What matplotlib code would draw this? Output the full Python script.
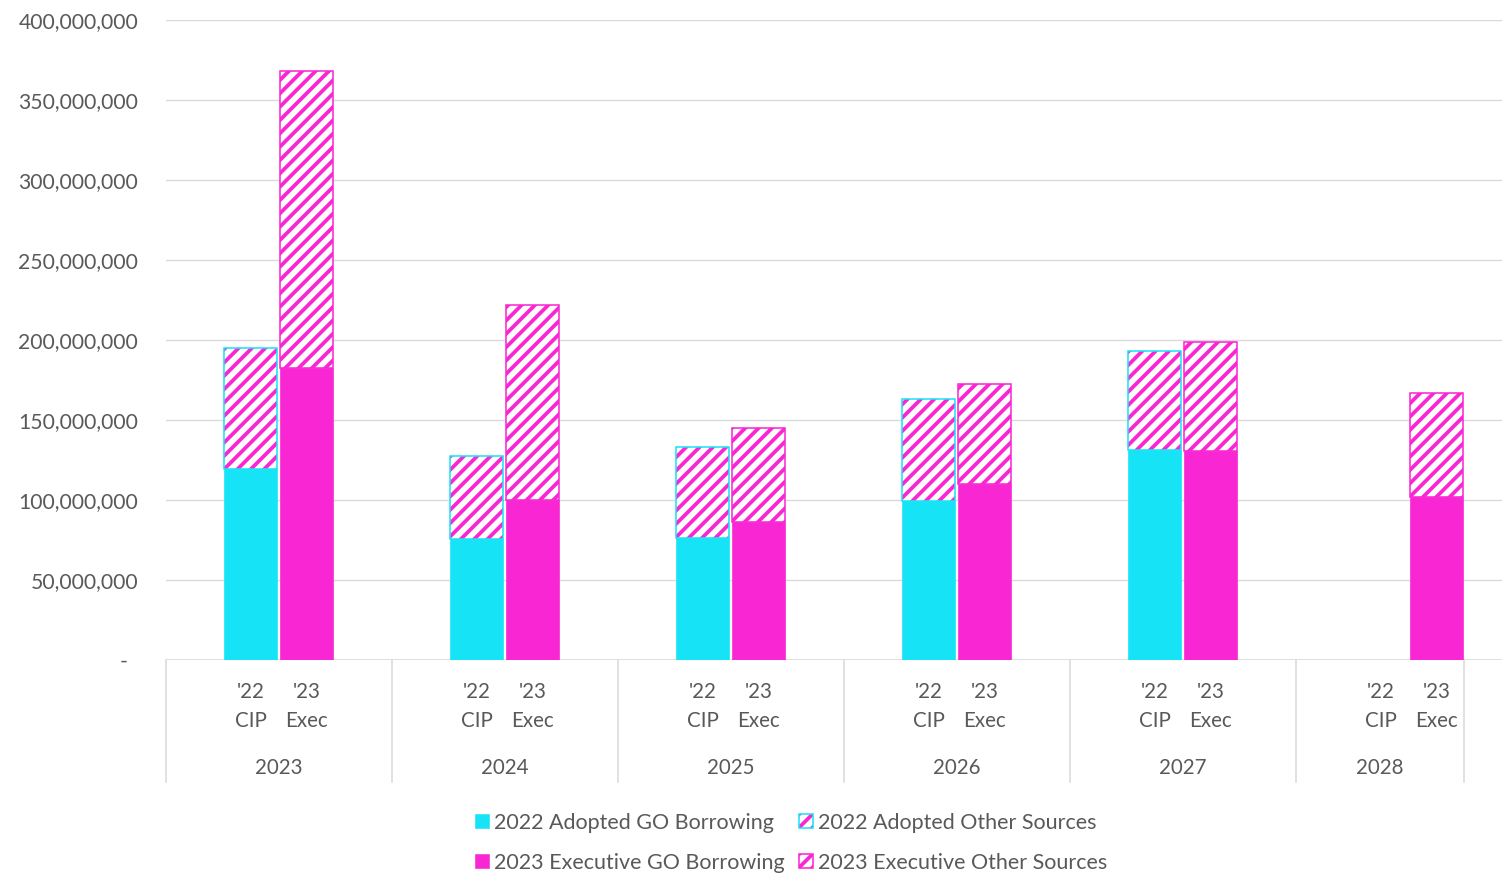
import matplotlib
matplotlib.use("Agg")
import matplotlib.pyplot as plt
import matplotlib.transforms as mtransforms
from matplotlib.patches import Rectangle
from matplotlib.ticker import FuncFormatter, MultipleLocator
import numpy as np

# ---- data -------------------------------------------------------------
years = ["2023", "2024", "2025", "2026", "2027", "2028"]
plan_top = ["'22", "'23"]
plan_bottom = ["CIP", "Exec"]

cip22_go = [119.2e6, 75.4e6, 76.0e6, 99.4e6, 131.0e6, np.nan]
cip22_other = [75.6e6, 52.3e6, 57.0e6, 63.6e6, 62.3e6, np.nan]
exec23_go = [182.7e6, 100.0e6, 86.5e6, 110.0e6, 130.8e6, 101.7e6]
exec23_other = [185.3e6, 122.0e6, 58.5e6, 62.7e6, 67.7e6, 65.3e6]

legend_labels = ["2022 Adopted GO Borrowing", "2022 Adopted Other Sources",
                 "2023 Executive GO Borrowing", "2023 Executive Other Sources"]

# ---- style ------------------------------------------------------------
CYAN = "#16E3F5"
MAGENTA = "#F926D3"
TEXT = "#595959"
GRID = "#D9D9D9"
FONT = "Lato"
HATCH = "//"

plt.rcParams["font.family"] = [FONT, "DejaVu Sans"]
plt.rcParams["hatch.linewidth"] = 3.4

W, H, DPI = 1502, 873, 80
fig = plt.figure(figsize=(W / DPI, H / DPI), dpi=DPI)

# plot area in pixels (group width 226 px, six groups)
left_px, top_px, bottom_px = 166, 20, 660
group_px = 226
right_px = left_px + group_px * len(years)
ax = fig.add_axes([left_px / W, 1 - bottom_px / H,
                   (right_px - left_px) / W, (bottom_px - top_px) / H])

ax.set_xlim(0, len(years))
ax.set_ylim(0, 400e6)

# ---- bars -------------------------------------------------------------
x = np.arange(len(years))
off_cip, off_exec = 0.374, 0.622
bw = 0.2345


def draw_stack(xc, go, other, face, edge):
    for xi, g, o in zip(xc, go, other):
        if np.isnan(g):
            continue
        ax.bar(xi, g, width=bw, color=face, edgecolor=face, linewidth=0.6,
               zorder=3)
        # hatch stripes are always magenta
        ax.bar(xi, o, width=bw, bottom=g, color="white", edgecolor=MAGENTA,
               hatch=HATCH, linewidth=0, zorder=3)
        ax.bar(xi, o, width=bw, bottom=g, fill=False, edgecolor=edge,
               linewidth=1.4, zorder=4)


draw_stack(x + off_cip, cip22_go, cip22_other, CYAN, CYAN)
draw_stack(x + off_exec, exec23_go, exec23_other, MAGENTA, MAGENTA)

# ---- y axis -----------------------------------------------------------
ax.yaxis.set_major_locator(MultipleLocator(50e6))
ax.yaxis.set_major_formatter(
    FuncFormatter(lambda v, p: "-  " if v == 0 else f"{v:,.0f}"))
ax.tick_params(axis="y", length=0, pad=25, labelsize=19, labelcolor=TEXT)
ax.tick_params(axis="x", length=0, labelbottom=False)
ax.grid(axis="y", color=GRID, linewidth=1.2, zorder=0)
ax.set_axisbelow(True)
for s in ax.spines.values():
    s.set_visible(False)
ax.axhline(0, color=GRID, linewidth=1.4, zorder=2)

# ---- two-level category axis -------------------------------------------
trans = mtransforms.blended_transform_factory(ax.transData, ax.transAxes)
span = bottom_px - top_px
sep_drop = (782 - bottom_px) / span
last_edge = (1464 - left_px) / group_px
edges = list(range(len(years))) + [last_edge]
for e in edges:
    ax.plot([e, e], [0, -sep_drop], transform=trans, color=GRID,
            linewidth=1.4, clip_on=False)

y_top = -(692 - bottom_px) / span
y_bot = -(721 - bottom_px) / span
y_year = -(768 - bottom_px) / span
CAT_FS = 18.5
for i, yr in enumerate(years):
    for off, t, b in zip((off_cip, off_exec), plan_top, plan_bottom):
        ax.text(i + off, y_top, t, transform=trans, ha="center", va="center",
                fontsize=CAT_FS, color=TEXT)
        ax.text(i + off, y_bot, b, transform=trans, ha="center", va="center",
                fontsize=CAT_FS, color=TEXT)
    hi = edges[i + 1]
    ax.text((i + hi) / 2, y_year, yr, transform=trans, ha="center",
            va="center", fontsize=CAT_FS, color=TEXT)

# ---- legend -------------------------------------------------------------
def legend_entry(px, py, label, face, edge, hatched):
    sz = 14
    fx, fy = px / W, 1 - (py + sz / 2) / H
    if hatched:
        fig.add_artist(Rectangle((fx, fy), sz / W, sz / H, transform=fig.transFigure,
                                 facecolor="white", edgecolor=MAGENTA, hatch=HATCH,
                                 linewidth=0))
        fig.add_artist(Rectangle((fx, fy), sz / W, sz / H, transform=fig.transFigure,
                                 fill=False, edgecolor=edge, linewidth=1.4))
    else:
        fig.add_artist(Rectangle((fx, fy), sz / W, sz / H, transform=fig.transFigure,
                                 facecolor=face, edgecolor=face, linewidth=0.5))
    fig.text((px + sz + 5) / W, 1 - (py + 2) / H, label, ha="left",
             va="center", fontsize=19.3, color=TEXT)


legend_entry(475, 821, legend_labels[0], CYAN, CYAN, False)
legend_entry(799, 821, legend_labels[1], CYAN, CYAN, True)
legend_entry(475, 861, legend_labels[2], MAGENTA, MAGENTA, False)
legend_entry(799, 861, legend_labels[3], MAGENTA, MAGENTA, True)

fig.savefig("out.png", dpi=DPI)
